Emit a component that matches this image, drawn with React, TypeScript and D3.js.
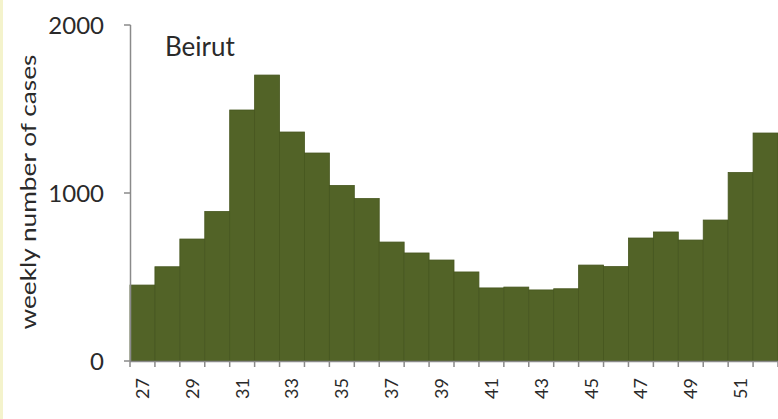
import React from "react";
import * as d3 from "d3";

const weeks = ["27","28","29","30","31","32","33","34","35","36","37","38","39","40","41","42","43","44","45","46","47","48","49","50","51","52"];
const cases = [452, 561, 726, 890, 1494, 1702, 1363, 1238, 1045, 967, 708, 643, 601, 530, 435, 440, 423, 430, 571, 562, 732, 768, 720, 839, 1122, 1357];
const yTicks = [0, 1000, 2000];
const labelWeeks = ["27","29","31","33","35","37","39","41","43","45","47","49","51"];
const region = "Beirut";
const yTitle = "weekly number of cases";

const W = 778;
const H = 419;
const FONT = "Lato, 'Open Sans', sans-serif";

export default function App() {
  const x = d3.scaleBand<string>().domain(weeks).range([130, 778]).padding(0);
  const y = d3.scaleLinear().domain([0, 2000]).range([361, 25]);
  const bw = x.bandwidth();
  const boundaries = weeks.map((w) => x(w) as number).concat([(x(weeks[weeks.length - 1]) as number) + bw]);

  return (
    <svg width={W} height={H} style={{ position: "absolute", left: 0, top: 0, background: "#fff" }}>
      <rect x={0} y={0} width={W} height={H} fill="#ffffff" />
      <rect x={0} y={0} width={3} height={H} fill="#f4f3cc" />
      {weeks.map((w, i) => (
        <rect
          key={w}
          x={x(w)}
          y={y(cases[i])}
          width={bw}
          height={y(0) - y(cases[i])}
          fill="#526327"
          stroke="#46561f"
          strokeWidth={0.8}
        />
      ))}
      {/* y axis */}
      <line x1={130.5} x2={130.5} y1={y(2000)} y2={y(0)} stroke="#8a8a8a" strokeWidth={1.5} />
      {yTicks.map((t) => (
        <g key={t}>
          <line x1={124} x2={130.5} y1={y(t)} y2={y(t)} stroke="#8a8a8a" strokeWidth={1.5} />
          <text x={104} y={y(t)} dy="0.36em" textAnchor="end" fontFamily={FONT} fontSize={24} fill="#2a2a2a">
            {t}
          </text>
        </g>
      ))}
      {/* x axis */}
      <line x1={130} x2={778} y1={361.5} y2={361.5} stroke="#8a8a8a" strokeWidth={1.5} />
      {boundaries.map((b, i) => (
        <line key={i} x1={b} x2={b} y1={361.5} y2={367} stroke="#8a8a8a" strokeWidth={1.5} />
      ))}
      {labelWeeks.map((w) => {
        const cx = (x(w) as number) + bw / 2;
        return (
          <text
            key={w}
            transform={`translate(${cx},378) rotate(-90)`}
            dy="0.36em"
            textAnchor="end"
            fontFamily={FONT}
            fontSize={18}
            fill="#2a2a2a"
          >
            {w}
          </text>
        );
      })}
      <text
        transform={`translate(36,192) rotate(-90)`}
        textAnchor="middle"
        fontFamily={FONT}
        fontSize={22}
        fill="#2a2a2a"
        textLength={275}
        lengthAdjust="spacingAndGlyphs"
      >
        {yTitle}
      </text>
      <text x={165} y={56} fontFamily={FONT} fontSize={26} fill="#2a2a2a">
        {region}
      </text>
    </svg>
  );
}
